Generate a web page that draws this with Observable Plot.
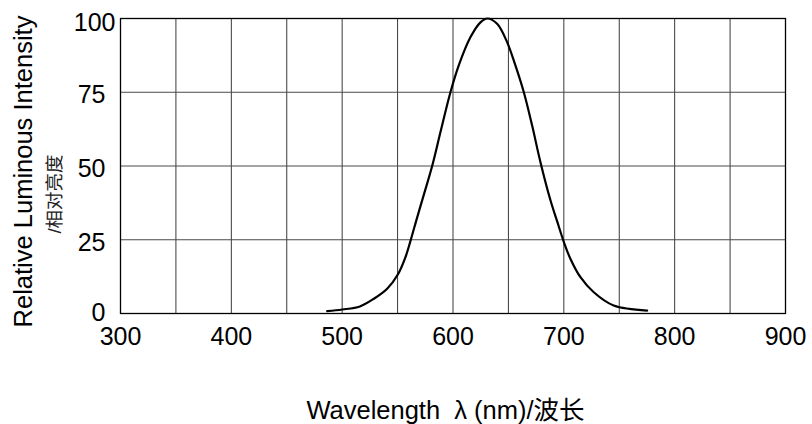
<!DOCTYPE html>
<html>
<head>
<meta charset="utf-8">
<script src="https://cdn.jsdelivr.net/npm/d3@7"></script>
<script src="https://cdn.jsdelivr.net/npm/@observablehq/plot@0.6"></script>
<style>
  html, body { margin: 0; padding: 0; background: #fff; }
</style>
</head>
<body>
<div id="chart"></div>
<script>
// Spectrum curve
const wavelengths = [486.5, 500, 516, 528.6, 540.6, 550.5, 557.1, 561.7, 567.7, 573.7, 581.2, 588.7, 597.7, 605.2, 615.8, 624.8, 631, 639.8, 648.8, 656.3, 663.9, 671.4, 678.9, 688, 694, 700.6, 706, 715, 727, 745, 775.2];
const intensity   = [0.8,   1.35, 2.4, 5.0,   8.4,   13.4,  19.1,  24.7,  32.6,  40.3,  50.0,  61.5,  75.0,  84.1,  93.7,  98.7,  100, 98.2,  92.0,  84.1,  75.0,  63.7,  51.3,  38.3, 31.2, 23.6,  18.5, 12.3, 7.2, 2.7, 1.0];

// Axes
const xTicks = [300, 400, 500, 600, 700, 800, 900];
const xGrid = [350, 400, 450, 500, 550, 600, 650, 700, 750, 800, 850];
const yTicks = [0, 25, 50, 75, 100];
const yGrid = [25, 50, 75];

const xTitle = "Wavelength  λ (nm)/波长";
const yTitle = "Relative Luminous Intensity";
const yTitleCn = "/相对亮度";

const points = wavelengths.map((w, i) => ({w, v: intensity[i]}));

const chart = Plot.plot({
  width: 812,
  height: 424,
  marginLeft: 120,
  marginRight: 27,
  marginTop: 18,
  marginBottom: 111,
  style: {fontFamily: "'Liberation Sans', Arial, 'Noto Sans CJK SC', sans-serif", background: "#fff", color: "#000"},
  x: {domain: [300, 900]},
  y: {domain: [0, 100]},
  marks: [
    Plot.gridX(xGrid, {stroke: "#3a3a3a", strokeOpacity: 1, strokeWidth: 1}),
    Plot.gridY(yGrid, {stroke: "#4a4a4a", strokeOpacity: 1, strokeWidth: 1}),
    Plot.frame({stroke: "#000", strokeWidth: 1.3}),
    Plot.axisX(xTicks, {tickSize: 0, tickPadding: 14, fontSize: 25, label: null, tickFormat: d => String(d)}),
    Plot.axisY(yTicks.filter(d => d > 0 && d < 100), {tickSize: 0, tickPadding: 15, fontSize: 25, dy: 3, label: null}),
    Plot.axisY(yTicks.filter(d => d === 0), {tickSize: 0, tickPadding: 15, fontSize: 25, dy: -1, label: null}),
    Plot.axisY(yTicks.filter(d => d === 100), {tickSize: 0, tickPadding: 5, fontSize: 25, dy: 4, label: null}),
    Plot.line(points, {x: "w", y: "v", curve: "catmull-rom", stroke: "#000", strokeWidth: 2.2}),
    Plot.text([yTitle], {text: d => d, frameAnchor: "left", rotate: -90, dx: -97, dy: 5.5, fontSize: 25.5, textAnchor: "middle", lineAnchor: "middle", fill: "#000"}),
    Plot.text([yTitleCn], {text: d => d, frameAnchor: "left", rotate: -90, dx: -65.5, dy: 28, fontSize: 18.5, textAnchor: "middle", lineAnchor: "middle", fill: "#222"}),
    Plot.text([xTitle], {text: d => d, frameAnchor: "bottom", dx: -7.5, dy: 97, fontSize: 25.5, textAnchor: "middle", lineAnchor: "middle", fill: "#000"})
  ]
});
document.getElementById("chart").appendChild(chart);
</script>
</body>
</html>
